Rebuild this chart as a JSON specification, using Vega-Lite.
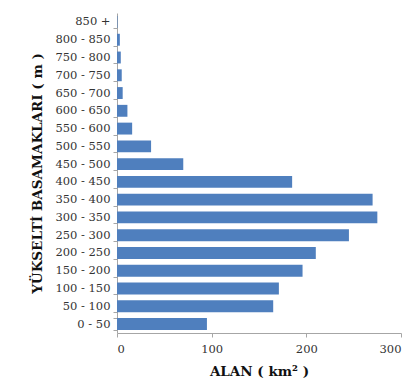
{
  "$schema": "https://vega.github.io/schema/vega-lite/v6.json",
  "autosize": "none",
  "width": 284,
  "height": 320,
  "padding": {"left": 117, "top": 13, "right": 8, "bottom": 54},
  "background": "white",
  "config": {
    "view": {"stroke": null},
    "font": "DejaVu Serif",
    "axis": {"grid": false, "domainColor": "#a6a6a6", "tickColor": "#a6a6a6", "labelColor": "#333333", "titleColor": "#111111", "labelFont": "DejaVu Serif", "titleFont": "DejaVu Serif"}
  },
  "data": {
    "values": [
      {"band": "0 - 50", "area": 95},
      {"band": "50 - 100", "area": 165},
      {"band": "100 - 150", "area": 171},
      {"band": "150 - 200", "area": 196},
      {"band": "200 - 250", "area": 210},
      {"band": "250 - 300", "area": 245},
      {"band": "300 - 350", "area": 275},
      {"band": "350 - 400", "area": 270},
      {"band": "400 - 450", "area": 185},
      {"band": "450 - 500", "area": 70},
      {"band": "500 - 550", "area": 36},
      {"band": "550 - 600", "area": 16},
      {"band": "600 - 650", "area": 11},
      {"band": "650 - 700", "area": 6},
      {"band": "700 - 750", "area": 5},
      {"band": "750 - 800", "area": 4},
      {"band": "800 - 850", "area": 3},
      {"band": "850 +", "area": 0.5}
    ]
  },
  "mark": {"type": "bar", "color": "#4F7FBE"},
  "encoding": {
    "y": {
      "field": "band", "type": "nominal", "sort": null,
      "scale": {"reverse": true, "paddingInner": 0.33, "paddingOuter": 0.17},
      "axis": {
        "title": "YÜKSELTİ BASAMAKLARI ( m )",
        "titleFontSize": 13.5, "titleFontWeight": "bold", "titlePadding": 10,
        "labelFontSize": 11.5, "labelPadding": 3,
        "tickBand": "extent", "tickSize": 4
      }
    },
    "x": {
      "field": "area", "type": "quantitative",
      "scale": {"domain": [0, 300], "nice": false},
      "axis": {
        "title": "ALAN ( km² )", "values": [0, 100, 200, 300],
        "titleFontSize": 13.5, "titleFontWeight": "bold", "titlePadding": 10,
        "labelFontSize": 11.5, "labelPadding": 6, "tickSize": 4
      }
    }
  }
}
